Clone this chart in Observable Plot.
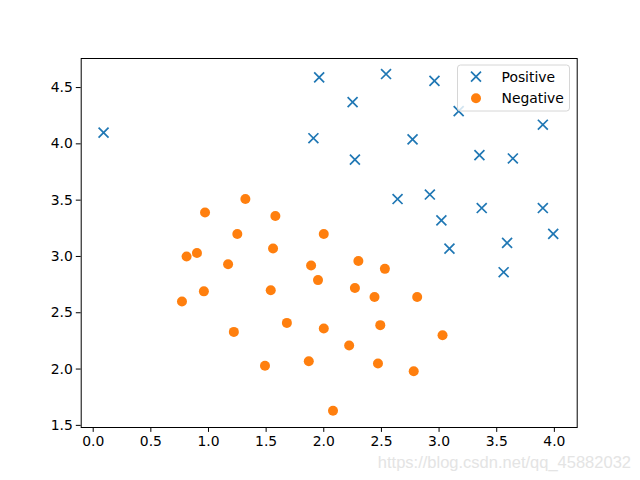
<!DOCTYPE html>
<html>
<head>
<meta charset="utf-8">
<script src="https://cdn.jsdelivr.net/npm/d3@7"></script>
<script src="https://cdn.jsdelivr.net/npm/@observablehq/plot@0.6"></script>
<style>
  html, body { margin: 0; padding: 0; background: #fff; }
  #chart { width: 640px; height: 480px; }
</style>
</head>
<body>
<div id="chart"></div>
<script>
const posX = [0.09, 1.96, 1.91, 2.25, 2.27, 2.54, 2.96, 3.17, 3.90, 2.77, 3.35, 3.64, 2.64, 2.92, 3.37, 3.90, 3.02, 3.99, 3.59, 3.09, 3.56];
const posY = [4.10, 4.59, 4.05, 4.37, 3.86, 4.62, 4.56, 4.29, 4.17, 4.04, 3.90, 3.87, 3.51, 3.55, 3.43, 3.43, 3.32, 3.20, 3.12, 3.07, 2.86];
const negX = [1.32, 0.97, 1.58, 1.25, 2.00, 0.81, 0.90, 1.56, 1.17, 1.89, 2.30, 1.95, 2.27, 0.96, 1.54, 0.77, 1.68, 2.00, 1.22, 2.22, 1.49, 1.87, 2.08, 2.53, 2.44, 2.81, 2.49, 3.03, 2.47, 2.78];
const negY = [3.51, 3.39, 3.36, 3.20, 3.20, 3.00, 3.03, 3.07, 2.93, 2.92, 2.96, 2.79, 2.72, 2.69, 2.70, 2.60, 2.41, 2.36, 2.33, 2.21, 2.03, 2.07, 1.63, 2.89, 2.64, 2.64, 2.39, 2.30, 2.05, 1.98];
const xTicks = [0.0, 0.5, 1.0, 1.5, 2.0, 2.5, 3.0, 3.5, 4.0];
const yTicks = [1.5, 2.0, 2.5, 3.0, 3.5, 4.0, 4.5];
const seriesNames = ["Positive", "Negative"];
const colors = ["#1f77b4", "#ff7f0e"];

const pos = posX.map((x, i) => ({x, y: posY[i]}));
const neg = negX.map((x, i) => ({x, y: negY[i]}));

const W = 640, H = 480;
const mL = 80.7, mR = 63.3, mT = 58, mB = 53;

const svg = Plot.plot({
  width: W,
  height: H,
  marginLeft: mL,
  marginRight: mR,
  marginTop: mT,
  marginBottom: mB,
  style: {fontFamily: "DejaVu Sans", fontSize: "13.9px", color: "#000", background: "#fff"},
  x: {domain: [-0.104, 4.198], ticks: xTicks, tickFormat: d3.format(".1f"), tickSize: 4.9, tickPadding: 3.5, label: null},
  y: {domain: [1.481, 4.758], ticks: yTicks, tickFormat: d3.format(".1f"), tickSize: 4.9, tickPadding: 3.5, label: null},
  marks: [
    Plot.dot(pos, {x: "x", y: "y", symbol: "times", r: 4.6, stroke: colors[0], strokeWidth: 1.7}),
    Plot.dot(neg, {x: "x", y: "y", symbol: "circle", r: 5, fill: colors[1], stroke: "none"}),
    Plot.frame({stroke: "#000", strokeWidth: 1})
  ]
});

document.getElementById("chart").appendChild(svg);

// Legend (matplotlib-style, upper right)
const sel = d3.select(svg);
const lg = sel.append("g").attr("text-anchor", "start");
lg.append("rect")
  .attr("x", 457.5).attr("y", 65).attr("width", 112).attr("height", 46)
  .attr("rx", 3).attr("fill", "rgba(255,255,255,0.8)").attr("stroke", "#d6d6d6").attr("stroke-width", 1);
const rowsY = [76.7, 98.3];
const tx = d3.symbol(d3.symbolTimes, Math.PI * 4.6 * 4.6)();
const ci = d3.symbol(d3.symbolCircle, Math.PI * 5 * 5)();
seriesNames.forEach((name, i) => {
  lg.append("path")
    .attr("d", i === 0 ? tx : ci)
    .attr("transform", `translate(476,${rowsY[i]})`)
    .attr("fill", i === 0 ? "none" : colors[1])
    .attr("stroke", i === 0 ? colors[0] : "none")
    .attr("stroke-width", 1.7);
  lg.append("text")
    .attr("x", 501.5).attr("y", rowsY[i]).attr("dy", "0.35em")
    .attr("text-anchor", "start")
    .attr("font-family", "DejaVu Sans").attr("font-size", "13.9px").attr("fill", "#000")
    .text(name);
});

// Watermark
sel.append("text")
  .attr("x", 631).attr("y", 462).attr("dy", "0.35em").attr("text-anchor", "end")
  .attr("font-family", "Liberation Sans, Arial, sans-serif").attr("font-size", "16.5px")
  .attr("fill", "#e4e4e4")
  .text("https://blog.csdn.net/qq_45882032");
</script>
</body>
</html>
